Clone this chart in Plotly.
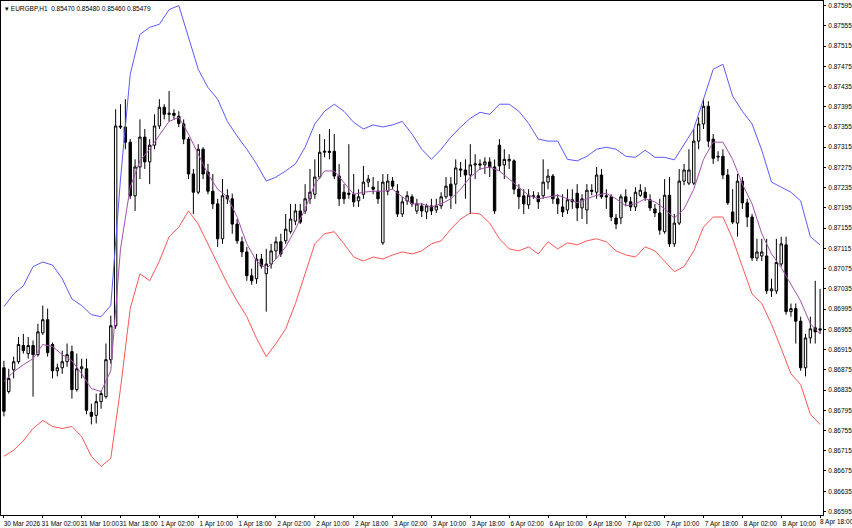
import plotly.graph_objects as go

# EURGBP H1 candles, one per hour from 30 Mar 2026 18:00
opens = [
    0.86879, 0.86832, 0.86875, 0.86891, 0.86923, 0.86907, 0.86923, 0.86905, 0.86948, 0.86974,
    0.86925, 0.86873, 0.86879, 0.86891, 0.86911, 0.86836, 0.86877, 0.86877, 0.86791, 0.86785,
    0.86812, 0.86822, 0.86895, 0.86962, 0.87357, 0.87355, 0.87325, 0.87219, 0.87276, 0.87335,
    0.87286, 0.87319, 0.87357, 0.87394, 0.87380, 0.87382, 0.87376, 0.87361, 0.87331, 0.87262,
    0.87226, 0.87311, 0.87266, 0.87228, 0.87203, 0.87134, 0.87219, 0.87213, 0.87163, 0.87128,
    0.87108, 0.87061, 0.87055, 0.87094, 0.87065, 0.87084, 0.87110, 0.87128, 0.87130, 0.87148,
    0.87169, 0.87189, 0.87189, 0.87213, 0.87222, 0.87256, 0.87305, 0.87307, 0.87307, 0.87258,
    0.87226, 0.87224, 0.87222, 0.87209, 0.87222, 0.87246, 0.87236, 0.87228, 0.87126, 0.87228,
    0.87248, 0.87228, 0.87183, 0.87209, 0.87217, 0.87189, 0.87199, 0.87187, 0.87199, 0.87191,
    0.87199, 0.87217, 0.87242, 0.87242, 0.87272, 0.87270, 0.87260, 0.87280, 0.87282, 0.87280,
    0.87286, 0.87276, 0.87319, 0.87280, 0.87288, 0.87288, 0.87232, 0.87219, 0.87201, 0.87219,
    0.87219, 0.87219, 0.87246, 0.87258, 0.87213, 0.87197, 0.87191, 0.87211, 0.87224, 0.87195,
    0.87191, 0.87230, 0.87226, 0.87260, 0.87219, 0.87217, 0.87175, 0.87175, 0.87217, 0.87207,
    0.87197, 0.87220, 0.87226, 0.87211, 0.87193, 0.87185, 0.87148, 0.87220, 0.87124, 0.87165,
    0.87248, 0.87244, 0.87244, 0.87327, 0.87361, 0.87396, 0.87331, 0.87297, 0.87297, 0.87260,
    0.87187, 0.87165, 0.87248, 0.87205, 0.87177, 0.87096, 0.87100, 0.87100, 0.87031, 0.87031,
    0.87084, 0.87122, 0.86990, 0.86996, 0.86971, 0.86879, 0.86938, 0.86958, 0.86956,
]
highs = [
    0.86893, 0.86877, 0.86901, 0.86940, 0.86946, 0.86940, 0.86933, 0.86966, 0.87002, 0.86996,
    0.86929, 0.86887, 0.86913, 0.86927, 0.86923, 0.86907, 0.86897, 0.86897, 0.86808, 0.86828,
    0.86834, 0.86927, 0.86982, 0.87390, 0.87400, 0.87410, 0.87331, 0.87291, 0.87370, 0.87351,
    0.87331, 0.87380, 0.87410, 0.87400, 0.87426, 0.87390, 0.87386, 0.87370, 0.87335, 0.87272,
    0.87321, 0.87315, 0.87282, 0.87262, 0.87213, 0.87252, 0.87232, 0.87223, 0.87173, 0.87138,
    0.87118, 0.87075, 0.87104, 0.87104, 0.87114, 0.87124, 0.87138, 0.87144, 0.87183, 0.87203,
    0.87203, 0.87203, 0.87242, 0.87272, 0.87291, 0.87341, 0.87331, 0.87351, 0.87341, 0.87282,
    0.87242, 0.87321, 0.87262, 0.87232, 0.87278, 0.87260, 0.87256, 0.87248, 0.87262, 0.87262,
    0.87256, 0.87242, 0.87217, 0.87228, 0.87222, 0.87213, 0.87205, 0.87203, 0.87213, 0.87213,
    0.87226, 0.87256, 0.87256, 0.87291, 0.87286, 0.87291, 0.87321, 0.87301, 0.87291, 0.87295,
    0.87295, 0.87291, 0.87331, 0.87311, 0.87301, 0.87291, 0.87242, 0.87232, 0.87232, 0.87228,
    0.87226, 0.87291, 0.87272, 0.87262, 0.87222, 0.87222, 0.87232, 0.87232, 0.87242, 0.87222,
    0.87242, 0.87242, 0.87276, 0.87272, 0.87232, 0.87222, 0.87183, 0.87222, 0.87232, 0.87217,
    0.87236, 0.87242, 0.87236, 0.87222, 0.87203, 0.87213, 0.87252, 0.87256, 0.87183, 0.87272,
    0.87282, 0.87311, 0.87351, 0.87374, 0.87410, 0.87406, 0.87341, 0.87307, 0.87311, 0.87272,
    0.87232, 0.87262, 0.87256, 0.87213, 0.87183, 0.87134, 0.87134, 0.87134, 0.87055, 0.87134,
    0.87138, 0.87138, 0.87006, 0.87006, 0.86980, 0.86946, 0.86980, 0.87051, 0.87035,
]
lows = [
    0.86783, 0.86828, 0.86858, 0.86887, 0.86907, 0.86897, 0.86822, 0.86901, 0.86944, 0.86901,
    0.86858, 0.86862, 0.86867, 0.86881, 0.86818, 0.86832, 0.86858, 0.86787, 0.86767, 0.86769,
    0.86798, 0.86818, 0.86887, 0.86956, 0.87351, 0.87311, 0.87213, 0.87189, 0.87252, 0.87272,
    0.87242, 0.87311, 0.87351, 0.87370, 0.87366, 0.87370, 0.87355, 0.87321, 0.87252, 0.87183,
    0.87222, 0.87252, 0.87222, 0.87193, 0.87118, 0.87124, 0.87203, 0.87144, 0.87124, 0.87098,
    0.87051, 0.87043, 0.87045, 0.87075, 0.86990, 0.87075, 0.87094, 0.87098, 0.87124, 0.87144,
    0.87161, 0.87163, 0.87183, 0.87203, 0.87213, 0.87252, 0.87295, 0.87291, 0.87252, 0.87199,
    0.87203, 0.87213, 0.87197, 0.87197, 0.87213, 0.87236, 0.87222, 0.87203, 0.87122, 0.87220,
    0.87232, 0.87177, 0.87177, 0.87201, 0.87197, 0.87183, 0.87177, 0.87173, 0.87181, 0.87185,
    0.87193, 0.87213, 0.87193, 0.87203, 0.87256, 0.87213, 0.87183, 0.87252, 0.87270, 0.87262,
    0.87256, 0.87183, 0.87268, 0.87252, 0.87272, 0.87222, 0.87193, 0.87183, 0.87193, 0.87213,
    0.87193, 0.87213, 0.87232, 0.87203, 0.87183, 0.87177, 0.87183, 0.87193, 0.87169, 0.87173,
    0.87163, 0.87220, 0.87213, 0.87213, 0.87193, 0.87169, 0.87153, 0.87163, 0.87199, 0.87189,
    0.87189, 0.87217, 0.87209, 0.87189, 0.87177, 0.87142, 0.87144, 0.87118, 0.87118, 0.87161,
    0.87240, 0.87240, 0.87240, 0.87311, 0.87351, 0.87315, 0.87282, 0.87287, 0.87252, 0.87201,
    0.87163, 0.87138, 0.87193, 0.87157, 0.87090, 0.87090, 0.87090, 0.87025, 0.87019, 0.87025,
    0.87079, 0.86984, 0.86980, 0.86927, 0.86873, 0.86862, 0.86927, 0.86927, 0.86946,
]
closes = [
    0.86793, 0.86858, 0.86891, 0.86925, 0.86913, 0.86923, 0.86905, 0.86950, 0.86974, 0.86909,
    0.86873, 0.86879, 0.86891, 0.86905, 0.86836, 0.86877, 0.86881, 0.86795, 0.86783, 0.86812,
    0.86828, 0.86895, 0.86962, 0.87357, 0.87355, 0.87325, 0.87219, 0.87276, 0.87335, 0.87286,
    0.87319, 0.87357, 0.87394, 0.87380, 0.87382, 0.87378, 0.87362, 0.87331, 0.87262, 0.87226,
    0.87311, 0.87262, 0.87228, 0.87203, 0.87134, 0.87219, 0.87213, 0.87163, 0.87130, 0.87108,
    0.87061, 0.87051, 0.87094, 0.87080, 0.87084, 0.87110, 0.87128, 0.87104, 0.87153, 0.87173,
    0.87189, 0.87167, 0.87213, 0.87226, 0.87256, 0.87305, 0.87307, 0.87305, 0.87258, 0.87213,
    0.87213, 0.87222, 0.87207, 0.87217, 0.87246, 0.87252, 0.87232, 0.87213, 0.87246, 0.87248,
    0.87238, 0.87183, 0.87207, 0.87219, 0.87203, 0.87203, 0.87189, 0.87199, 0.87189, 0.87199,
    0.87217, 0.87238, 0.87219, 0.87274, 0.87270, 0.87260, 0.87280, 0.87282, 0.87280, 0.87286,
    0.87276, 0.87189, 0.87278, 0.87291, 0.87291, 0.87232, 0.87217, 0.87203, 0.87220, 0.87218,
    0.87207, 0.87246, 0.87258, 0.87213, 0.87203, 0.87187, 0.87211, 0.87207, 0.87195, 0.87213,
    0.87230, 0.87228, 0.87260, 0.87217, 0.87217, 0.87177, 0.87163, 0.87217, 0.87207, 0.87197,
    0.87226, 0.87230, 0.87215, 0.87195, 0.87185, 0.87151, 0.87220, 0.87124, 0.87165, 0.87248,
    0.87270, 0.87270, 0.87327, 0.87361, 0.87396, 0.87327, 0.87293, 0.87296, 0.87260, 0.87205,
    0.87167, 0.87248, 0.87205, 0.87177, 0.87096, 0.87108, 0.87108, 0.87031, 0.87035, 0.87087,
    0.87124, 0.86990, 0.86996, 0.86971, 0.86879, 0.86938, 0.86956, 0.86950, 0.86954,
]

# Bollinger band readings, every second bar
band_bars = list(range(0, 169, 2))
upper_band = [
    0.87000, 0.87025, 0.87041, 0.87079, 0.87088, 0.87082, 0.87055, 0.87015, 0.87002, 0.86984,
    0.86980, 0.87002, 0.87252, 0.87459, 0.87538, 0.87552, 0.87558, 0.87587, 0.87595, 0.87532,
    0.87469, 0.87433, 0.87410, 0.87366, 0.87337, 0.87311, 0.87282, 0.87248, 0.87256, 0.87268,
    0.87282, 0.87315, 0.87361, 0.87386, 0.87400, 0.87386, 0.87364, 0.87351, 0.87359, 0.87355,
    0.87359, 0.87366, 0.87341, 0.87311, 0.87291, 0.87311, 0.87335, 0.87355, 0.87372, 0.87384,
    0.87380, 0.87400, 0.87400, 0.87386, 0.87362, 0.87331, 0.87327, 0.87327, 0.87291, 0.87288,
    0.87297, 0.87311, 0.87315, 0.87311, 0.87297, 0.87295, 0.87309, 0.87295, 0.87295, 0.87290,
    0.87321, 0.87351, 0.87410, 0.87469, 0.87479, 0.87416, 0.87386, 0.87361, 0.87309, 0.87246,
    0.87236, 0.87226, 0.87209, 0.87138, 0.87122,
]
middle_band = [
    0.86852, 0.86871, 0.86885, 0.86897, 0.86925, 0.86921, 0.86905, 0.86893, 0.86867, 0.86838,
    0.86832, 0.86873, 0.87114, 0.87236, 0.87288, 0.87311, 0.87339, 0.87366, 0.87374, 0.87341,
    0.87301, 0.87262, 0.87232, 0.87217, 0.87177, 0.87124, 0.87090, 0.87075, 0.87094, 0.87118,
    0.87153, 0.87193, 0.87242, 0.87268, 0.87268, 0.87246, 0.87222, 0.87226, 0.87228, 0.87228,
    0.87232, 0.87217, 0.87203, 0.87203, 0.87197, 0.87203, 0.87213, 0.87232, 0.87256, 0.87272,
    0.87276, 0.87268, 0.87252, 0.87236, 0.87220, 0.87213, 0.87217, 0.87220, 0.87213, 0.87205,
    0.87213, 0.87220, 0.87224, 0.87213, 0.87199, 0.87203, 0.87213, 0.87207, 0.87193, 0.87175,
    0.87193, 0.87232, 0.87291, 0.87325, 0.87325, 0.87291, 0.87242, 0.87203, 0.87144, 0.87104,
    0.87077, 0.87043, 0.87011, 0.86966, 0.86946,
]
lower_band = [
    0.86704, 0.86716, 0.86735, 0.86759, 0.86775, 0.86763, 0.86759, 0.86763, 0.86743, 0.86704,
    0.86684, 0.86700, 0.86838, 0.86996, 0.87065, 0.87051, 0.87090, 0.87138, 0.87157, 0.87189,
    0.87163, 0.87124, 0.87084, 0.87045, 0.87011, 0.86980, 0.86937, 0.86901, 0.86927, 0.86956,
    0.87006, 0.87065, 0.87124, 0.87144, 0.87148, 0.87124, 0.87098, 0.87090, 0.87098, 0.87094,
    0.87102, 0.87108, 0.87104, 0.87110, 0.87124, 0.87130, 0.87153, 0.87173, 0.87185, 0.87183,
    0.87165, 0.87134, 0.87114, 0.87110, 0.87118, 0.87104, 0.87128, 0.87114, 0.87126, 0.87122,
    0.87130, 0.87134, 0.87128, 0.87110, 0.87102, 0.87098, 0.87118, 0.87110, 0.87090, 0.87069,
    0.87079, 0.87110, 0.87157, 0.87177, 0.87177, 0.87134, 0.87079, 0.87025, 0.87006, 0.86965,
    0.86917, 0.86867, 0.86846, 0.86787, 0.86767,
]

x_tick_bars = list(range(0, 169, 8))
x_tick_labels = [
    "30 Mar 2026", "31 Mar 02:00", "31 Mar 10:00", "31 Mar 18:00", "1 Apr 02:00",
    "1 Apr 10:00", "1 Apr 18:00", "2 Apr 02:00", "2 Apr 10:00", "2 Apr 18:00",
    "3 Apr 02:00", "3 Apr 10:00", "3 Apr 18:00", "6 Apr 02:00", "6 Apr 10:00",
    "6 Apr 18:00", "7 Apr 02:00", "7 Apr 10:00", "7 Apr 18:00", "8 Apr 02:00",
    "8 Apr 10:00", "8 Apr 18:00",
]
y_ticks = [round(0.86595 + 0.0004 * k, 5) for k in range(26)]

bars = list(range(len(closes)))
font = dict(family="Liberation Sans", size=6.5, color="black")

fig = go.Figure()
fig.add_trace(go.Scatter(x=band_bars, y=upper_band, mode="lines",
                         line=dict(color="rgb(90,90,255)", width=1), hoverinfo="skip"))
fig.add_trace(go.Scatter(x=band_bars, y=lower_band, mode="lines",
                         line=dict(color="rgb(255,85,85)", width=1), hoverinfo="skip"))
fig.add_trace(go.Candlestick(
    x=bars, open=opens, high=highs, low=lows, close=closes, whiskerwidth=0,
    increasing=dict(line=dict(color="black", width=1), fillcolor="white"),
    decreasing=dict(line=dict(color="black", width=1), fillcolor="black"),
))
fig.add_trace(go.Scatter(x=band_bars, y=middle_band, mode="lines",
                         line=dict(color="rgb(165,80,175)", width=1), hoverinfo="skip"))

fig.add_annotation(text="▾ EURGBP,H1  0.85470 0.85480 0.85460 0.85479",
                   xref="paper", yref="paper", x=0.003, y=0.997,
                   xanchor="left", yanchor="top", showarrow=False, font=font)
# the last time label runs past the plot edge, so it is placed by hand
fig.add_annotation(text=x_tick_labels[-1], xref="x", yref="paper",
                   x=x_tick_bars[-1], y=0, xanchor="left", yanchor="top",
                   xshift=-2, yshift=-1, showarrow=False, font=font)

fig.update_layout(
    width=852, height=528, showlegend=False,
    margin=dict(l=1, r=29, t=0, b=12),
    paper_bgcolor="white", plot_bgcolor="white",
    font=font,
    xaxis=dict(range=[-0.6, 168.6], tickvals=x_tick_bars,
               ticktext=x_tick_labels[:-1] + [""],
               tickangle=0, showgrid=False, zeroline=False, rangeslider=dict(visible=False),
               showline=True, linecolor="black", mirror=True, ticks="outside",
               ticklen=2, tickcolor="black", ticklabelshift=18, ticklabelstandoff=0,
               tickfont=font),
    yaxis=dict(range=[0.86588, 0.87604], side="right", tickvals=y_ticks,
               tickformat=".5f", showgrid=False, zeroline=False,
               showline=True, linecolor="black", mirror=True, ticks="outside",
               ticklen=2, tickcolor="black", ticklabelstandoff=1, tickfont=font),
)

fig.write_html("out.html", config={"displayModeBar": False},
               post_script="document.body.style.margin='0';")
